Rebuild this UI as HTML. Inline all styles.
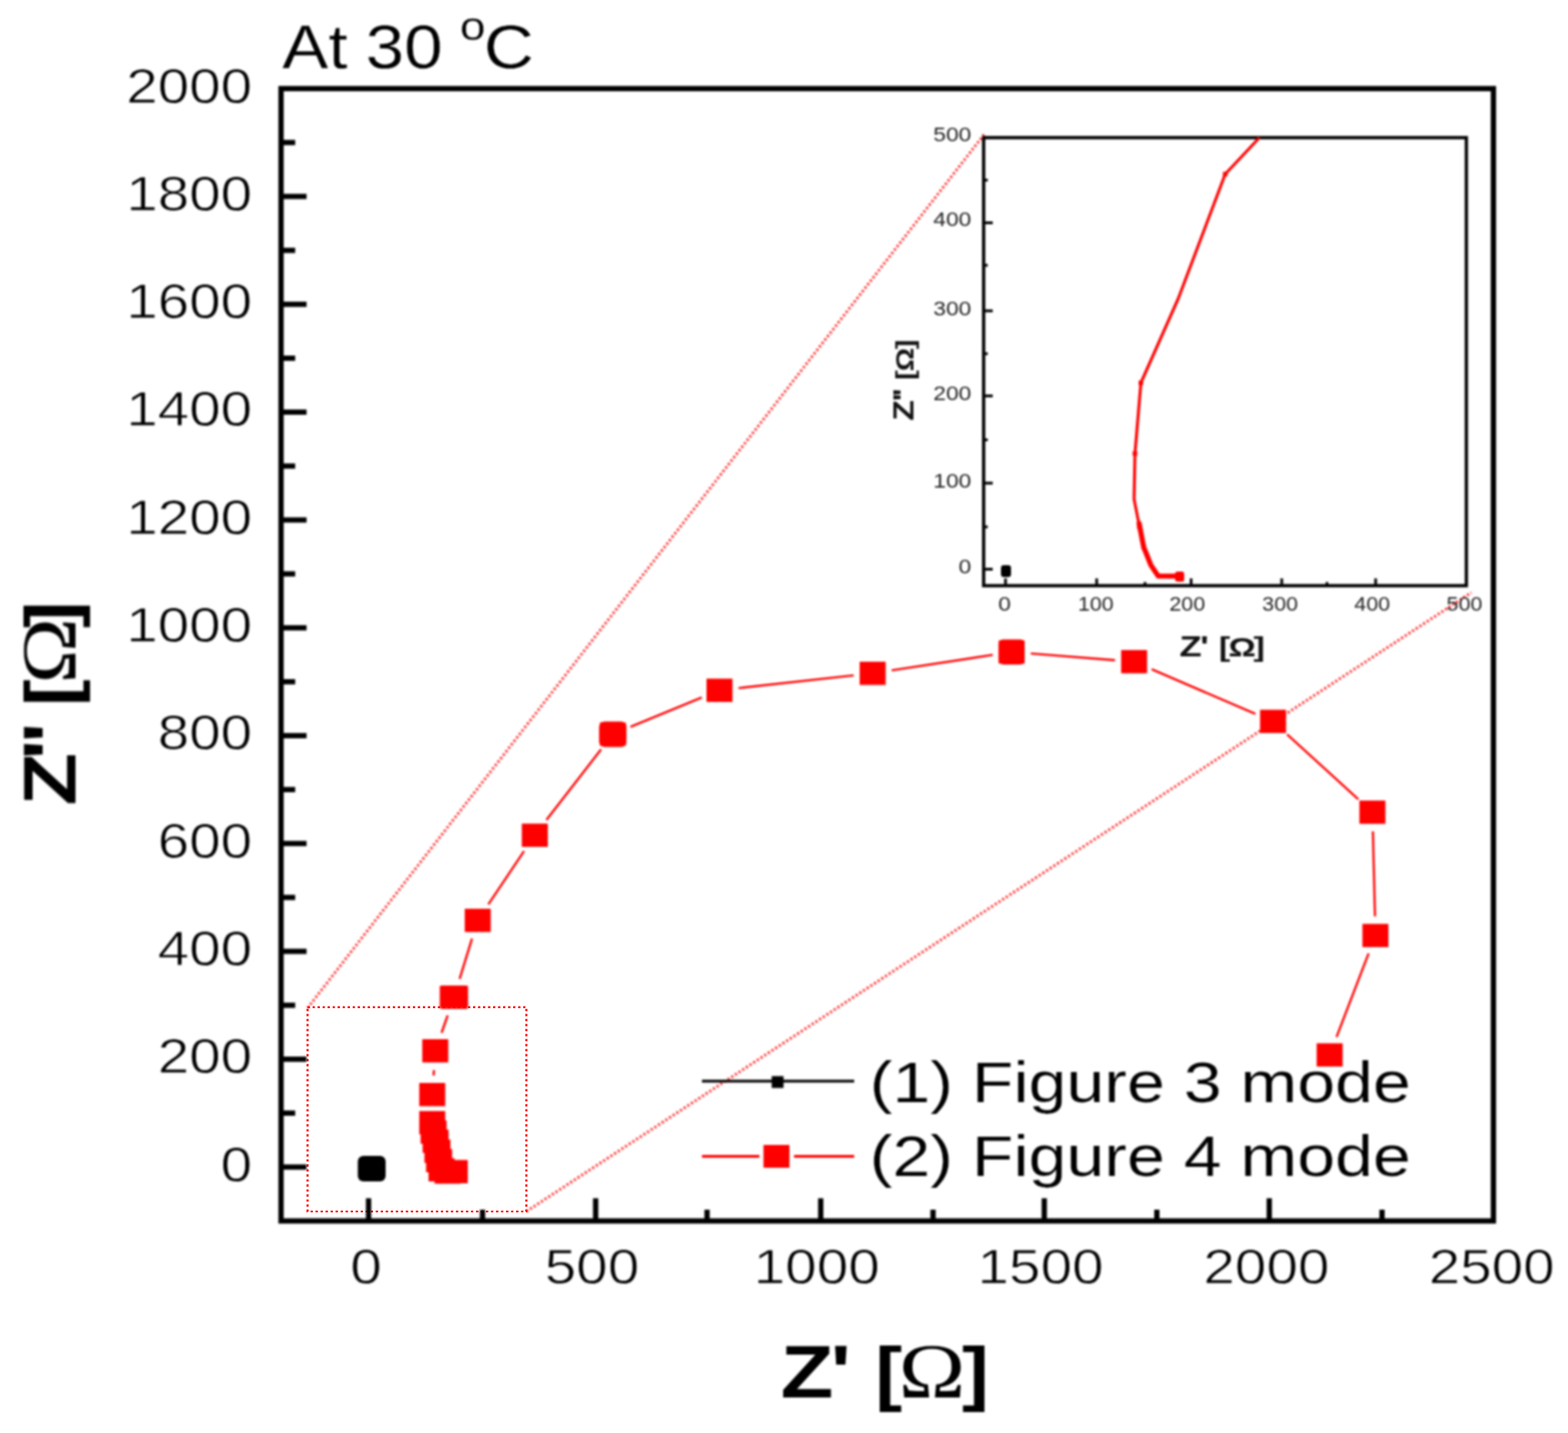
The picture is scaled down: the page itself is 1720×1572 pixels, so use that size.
<!DOCTYPE html>
<html lang="en">
<head>
<meta charset="utf-8">
<title>At 30 °C</title>
<style>
html,body{margin:0;padding:0;background:#fff;}
body{width:1720px;height:1572px;overflow:hidden;}
svg{display:block;}
text{white-space:pre;}
</style>
</head>
<body>
<svg width="1720" height="1572" viewBox="0 0 1720 1572">
<defs>
<filter id="soft" color-interpolation-filters="sRGB" x="0" y="0" width="1720" height="1572" filterUnits="userSpaceOnUse"><feGaussianBlur stdDeviation="0.8"/></filter>
<filter id="soft2" color-interpolation-filters="sRGB" x="0" y="0" width="1720" height="1572" filterUnits="userSpaceOnUse"><feGaussianBlur stdDeviation="0.62"/></filter>
</defs>
<rect width="1720" height="1572" fill="#fff"/>
<g id="zoom-box" filter="url(#soft2)"><rect x="337.4" y="1104.8" width="240.0" height="224.20000000000005" fill="none" stroke="#ff0000" stroke-width="2.2" stroke-dasharray="2.4 3.1"/></g>
<g id="figure" filter="url(#soft)">
<g id="zoom-guides" stroke="#ff0000" fill="none">
<line x1="337.4" y1="1105.8" x2="1079.5" y2="147.5" stroke-width="3" stroke-dasharray="2.4 2.4" opacity="0.8"/>
<line x1="577.4" y1="1329.0" x2="1614" y2="650" stroke-width="3" stroke-dasharray="2.4 2.4" opacity="0.8"/>
</g>
<g id="main-axes" stroke="#000" fill="none" stroke-linecap="butt">
<rect x="308.3" y="97.2" width="1329.9" height="1242.2" stroke-width="5.8"/>
<line x1="308.3" y1="1280.25" x2="336.3" y2="1280.25" stroke-width="5.8"/>
<line x1="308.3" y1="1221.10" x2="323.8" y2="1221.10" stroke-width="5.8"/>
<line x1="308.3" y1="1161.94" x2="336.3" y2="1161.94" stroke-width="5.8"/>
<line x1="308.3" y1="1102.79" x2="323.8" y2="1102.79" stroke-width="5.8"/>
<line x1="308.3" y1="1043.64" x2="336.3" y2="1043.64" stroke-width="5.8"/>
<line x1="308.3" y1="984.49" x2="323.8" y2="984.49" stroke-width="5.8"/>
<line x1="308.3" y1="925.33" x2="336.3" y2="925.33" stroke-width="5.8"/>
<line x1="308.3" y1="866.18" x2="323.8" y2="866.18" stroke-width="5.8"/>
<line x1="308.3" y1="807.03" x2="336.3" y2="807.03" stroke-width="5.8"/>
<line x1="308.3" y1="747.88" x2="323.8" y2="747.88" stroke-width="5.8"/>
<line x1="308.3" y1="688.72" x2="336.3" y2="688.72" stroke-width="5.8"/>
<line x1="308.3" y1="629.57" x2="323.8" y2="629.57" stroke-width="5.8"/>
<line x1="308.3" y1="570.42" x2="336.3" y2="570.42" stroke-width="5.8"/>
<line x1="308.3" y1="511.27" x2="323.8" y2="511.27" stroke-width="5.8"/>
<line x1="308.3" y1="452.11" x2="336.3" y2="452.11" stroke-width="5.8"/>
<line x1="308.3" y1="392.96" x2="323.8" y2="392.96" stroke-width="5.8"/>
<line x1="308.3" y1="333.81" x2="336.3" y2="333.81" stroke-width="5.8"/>
<line x1="308.3" y1="274.66" x2="323.8" y2="274.66" stroke-width="5.8"/>
<line x1="308.3" y1="215.50" x2="336.3" y2="215.50" stroke-width="5.8"/>
<line x1="308.3" y1="156.35" x2="323.8" y2="156.35" stroke-width="5.8"/>
<line x1="404.30" y1="1339.4" x2="404.30" y2="1314.5" stroke-width="5.8"/>
<line x1="529.30" y1="1339.4" x2="529.30" y2="1327.0" stroke-width="5.8"/>
<line x1="653.40" y1="1339.4" x2="653.40" y2="1314.5" stroke-width="5.8"/>
<line x1="775.60" y1="1339.4" x2="775.60" y2="1327.0" stroke-width="5.8"/>
<line x1="900.30" y1="1339.4" x2="900.30" y2="1314.5" stroke-width="5.8"/>
<line x1="1023.50" y1="1339.4" x2="1023.50" y2="1327.0" stroke-width="5.8"/>
<line x1="1145.50" y1="1339.4" x2="1145.50" y2="1314.5" stroke-width="5.8"/>
<line x1="1269.00" y1="1339.4" x2="1269.00" y2="1327.0" stroke-width="5.8"/>
<line x1="1392.30" y1="1339.4" x2="1392.30" y2="1314.5" stroke-width="5.8"/>
<line x1="1516.00" y1="1339.4" x2="1516.00" y2="1327.0" stroke-width="5.8"/>
</g>
<g id="main-ticklabels">
<text transform="translate(242.04 1295.55) scale(1.1550 1.0000)" font-family="'Liberation Sans', sans-serif" font-weight="normal" font-size="53.8" fill="#000" text-anchor="start" stroke="#fff" stroke-width="0.8">0</text>
<text transform="translate(172.94 1177.24) scale(1.1550 1.0000)" font-family="'Liberation Sans', sans-serif" font-weight="normal" font-size="53.8" fill="#000" text-anchor="start" stroke="#fff" stroke-width="0.8">200</text>
<text transform="translate(172.94 1058.94) scale(1.1550 1.0000)" font-family="'Liberation Sans', sans-serif" font-weight="normal" font-size="53.8" fill="#000" text-anchor="start" stroke="#fff" stroke-width="0.8">400</text>
<text transform="translate(172.94 940.63) scale(1.1550 1.0000)" font-family="'Liberation Sans', sans-serif" font-weight="normal" font-size="53.8" fill="#000" text-anchor="start" stroke="#fff" stroke-width="0.8">600</text>
<text transform="translate(172.94 822.33) scale(1.1550 1.0000)" font-family="'Liberation Sans', sans-serif" font-weight="normal" font-size="53.8" fill="#000" text-anchor="start" stroke="#fff" stroke-width="0.8">800</text>
<text transform="translate(138.40 704.02) scale(1.1550 1.0000)" font-family="'Liberation Sans', sans-serif" font-weight="normal" font-size="53.8" fill="#000" text-anchor="start" stroke="#fff" stroke-width="0.8">1000</text>
<text transform="translate(138.40 585.72) scale(1.1550 1.0000)" font-family="'Liberation Sans', sans-serif" font-weight="normal" font-size="53.8" fill="#000" text-anchor="start" stroke="#fff" stroke-width="0.8">1200</text>
<text transform="translate(138.40 467.41) scale(1.1550 1.0000)" font-family="'Liberation Sans', sans-serif" font-weight="normal" font-size="53.8" fill="#000" text-anchor="start" stroke="#fff" stroke-width="0.8">1400</text>
<text transform="translate(138.40 349.11) scale(1.1550 1.0000)" font-family="'Liberation Sans', sans-serif" font-weight="normal" font-size="53.8" fill="#000" text-anchor="start" stroke="#fff" stroke-width="0.8">1600</text>
<text transform="translate(138.40 230.80) scale(1.1550 1.0000)" font-family="'Liberation Sans', sans-serif" font-weight="normal" font-size="53.8" fill="#000" text-anchor="start" stroke="#fff" stroke-width="0.8">1800</text>
<text transform="translate(138.40 112.50) scale(1.1550 1.0000)" font-family="'Liberation Sans', sans-serif" font-weight="normal" font-size="53.8" fill="#000" text-anchor="start" stroke="#fff" stroke-width="0.8">2000</text>
<text transform="translate(384.18 1408.00) scale(1.1550 1.0000)" font-family="'Liberation Sans', sans-serif" font-weight="normal" font-size="53.8" fill="#000" text-anchor="start" stroke="#fff" stroke-width="0.8">0</text>
<text transform="translate(597.53 1408.00) scale(1.1550 1.0000)" font-family="'Liberation Sans', sans-serif" font-weight="normal" font-size="53.8" fill="#000" text-anchor="start" stroke="#fff" stroke-width="0.8">500</text>
<text transform="translate(826.77 1408.00) scale(1.1550 1.0000)" font-family="'Liberation Sans', sans-serif" font-weight="normal" font-size="53.8" fill="#000" text-anchor="start" stroke="#fff" stroke-width="0.8">1000</text>
<text transform="translate(1072.27 1408.00) scale(1.1550 1.0000)" font-family="'Liberation Sans', sans-serif" font-weight="normal" font-size="53.8" fill="#000" text-anchor="start" stroke="#fff" stroke-width="0.8">1500</text>
<text transform="translate(1320.04 1408.00) scale(1.1550 1.0000)" font-family="'Liberation Sans', sans-serif" font-weight="normal" font-size="53.8" fill="#000" text-anchor="start" stroke="#fff" stroke-width="0.8">2000</text>
<text transform="translate(1567.14 1408.00) scale(1.1550 1.0000)" font-family="'Liberation Sans', sans-serif" font-weight="normal" font-size="53.8" fill="#000" text-anchor="start" stroke="#fff" stroke-width="0.8">2500</text>
</g>
<g id="title">
<text id="title-text" transform="translate(309.60 75.00) scale(1.1220 1.0000)" font-family="'Liberation Sans', sans-serif" font-weight="normal" font-size="67.8" fill="#000" stroke="#fff" stroke-width="0.3"><tspan x="-0.17" y="0.00">At</tspan><tspan x="62.57" y="0.00"> 30</tspan><tspan> </tspan><tspan x="173.76" y="-31.20" font-size="45">o</tspan><tspan x="197.14" y="0.00">C</tspan></text>
</g>
<g id="axis-labels">
<text id="xlabel" transform="translate(859.20 1533.30) scale(1.1870 1.0300)" font-family="'Liberation Sans', sans-serif" font-weight="bold" font-size="80" fill="#000"><tspan x="-2.40" y="0.00">Z</tspan><tspan x="43.65" y="0.00">'</tspan><tspan x="63.99" y="0.00" font-size="75"> [</tspan><tspan x="106.68" y="0.00" font-family="'Liberation Serif', serif" font-weight="normal" font-size="83">Ω</tspan><tspan x="165.28" y="0.00" font-size="75">]</tspan></text>
<text id="ylabel" transform="translate(83.20 881.00) rotate(-90) scale(1.1870 1.0300)" font-family="'Liberation Sans', sans-serif" font-weight="bold" font-size="80" fill="#000"><tspan x="-2.40" y="0.00">Z</tspan><tspan x="39.78" y="0.00">'</tspan><tspan x="55.61" y="0.00">'</tspan><tspan x="68.54" y="0.00" font-size="75"> [</tspan><tspan x="110.27" y="0.00" font-family="'Liberation Serif', serif" font-weight="normal" font-size="82">Ω</tspan><tspan x="161.66" y="0.00" font-size="75">]</tspan></text>
</g>
<g id="legend">
<line x1="770" y1="1186" x2="937" y2="1186" stroke="#000" stroke-width="3"/>
<rect x="846.5" y="1180.5" width="13" height="13" fill="#000"/>
<line x1="770" y1="1268.5" x2="833" y2="1268.5" stroke="#ff0000" stroke-width="3"/>
<line x1="871" y1="1268.5" x2="937" y2="1268.5" stroke="#ff0000" stroke-width="3"/>
<rect x="837.5" y="1256" width="28.5" height="25" fill="#ff0000"/>
<text transform="translate(954.08 1209.30) scale(1.1780 1.0000)" font-family="'Liberation Sans', sans-serif" font-weight="normal" font-size="63.4" fill="#000" text-anchor="start" stroke="#fff" stroke-width="0.2">(1) Figure 3 mode</text>
<text transform="translate(954.08 1290.30) scale(1.1780 1.0000)" font-family="'Liberation Sans', sans-serif" font-weight="normal" font-size="63.4" fill="#000" text-anchor="start" stroke="#fff" stroke-width="0.2">(2) Figure 4 mode</text>
</g>
<g id="series2-line" stroke="#ff0000" fill="none" stroke-width="2.4">
<line x1="1466.1" y1="1137.6" x2="1501.3" y2="1045.9"/>
<line x1="1508.3" y1="1005.3" x2="1506.0" y2="912.0"/>
<line x1="1490.0" y1="876.8" x2="1411.9" y2="805.6"/>
<line x1="1377.1" y1="783.1" x2="1263.3" y2="734.2"/>
<line x1="1223.1" y1="724.2" x2="1130.7" y2="716.9"/>
<line x1="1089.0" y1="718.4" x2="978.1" y2="735.4"/>
<line x1="936.4" y1="740.9" x2="810.1" y2="754.9"/>
<line x1="769.8" y1="765.2" x2="691.6" y2="797.4"/>
<line x1="659.4" y1="822.0" x2="599.4" y2="899.6"/>
<line x1="574.9" y1="933.6" x2="535.7" y2="992.2"/>
<line x1="517.8" y1="1029.7" x2="504.2" y2="1073.9"/>
<line x1="491.1" y1="1113.8" x2="484.4" y2="1133.0"/>
<line x1="476.1" y1="1173.8" x2="475.6" y2="1179.8"/>
</g>
<g id="series2-markers" fill="#ff0000">
<rect x="1444.3" y="1144.5" width="28.5" height="25.5"/>
<rect x="1494.5" y="1013.5" width="28.5" height="25.5"/>
<rect x="1491.2" y="878.2" width="28.5" height="25.5"/>
<rect x="1382.2" y="778.6" width="28.5" height="25.5"/>
<rect x="1229.8" y="713.1" width="28.5" height="25.5"/>
<rect x="1095.5" y="702.5" width="28.5" height="25.5"/>
<rect x="943.0" y="725.9" width="28.5" height="25.5"/>
<rect x="775.0" y="744.5" width="28.5" height="25.5"/>
<rect x="658.0" y="792.6" width="28.5" height="25.5"/>
<rect x="572.4" y="903.5" width="28.5" height="25.5"/>
<rect x="509.8" y="996.9" width="28.5" height="25.5"/>
<rect x="483.8" y="1081.2" width="28.5" height="25.5"/>
<rect x="463.2" y="1140.0" width="28.5" height="25.5"/>
<rect x="459.9" y="1188.0" width="28.5" height="25.5"/>
<rect x="459.9" y="1218.8" width="28.5" height="25.5"/>
<rect x="461.4" y="1229.2" width="28.5" height="25.5"/>
<rect x="463.6" y="1239.2" width="28.5" height="25.5"/>
<rect x="465.6" y="1250.2" width="28.5" height="25.5"/>
<rect x="467.4" y="1260.5" width="28.5" height="25.5"/>
<rect x="470.1" y="1270.5" width="28.5" height="25.5"/>
<rect x="476.6" y="1273.0" width="28.5" height="25.5"/>
<rect x="484.6" y="1272.5" width="28.5" height="25.5"/>
<rect x="657.2" y="791.4" width="30" height="28" rx="6"/>
<rect x="482.4" y="1081.6" width="31" height="24.6"/>
<rect x="1095.6" y="701.6" width="28.4" height="27.4" rx="5"/>
</g>
<g id="series1-markers" fill="#000">
<rect x="392.5" y="1268" width="30.5" height="28" rx="6"/>
</g>
<g id="inset">
<rect x="1079.0" y="151.0" width="529.5" height="491.5" fill="none" stroke="#000" stroke-width="3.6"/>
<g stroke="#000" stroke-width="3">
<line x1="1079.0" y1="624.4" x2="1089.0" y2="624.4"/>
<line x1="1079.0" y1="578.0" x2="1083.5" y2="578.0"/>
<line x1="1079.0" y1="530.0" x2="1089.0" y2="530.0"/>
<line x1="1079.0" y1="482.5" x2="1083.5" y2="482.5"/>
<line x1="1079.0" y1="434.3" x2="1089.0" y2="434.3"/>
<line x1="1079.0" y1="388.0" x2="1083.5" y2="388.0"/>
<line x1="1079.0" y1="341.0" x2="1089.0" y2="341.0"/>
<line x1="1079.0" y1="291.0" x2="1083.5" y2="291.0"/>
<line x1="1079.0" y1="244.4" x2="1089.0" y2="244.4"/>
<line x1="1079.0" y1="197.6" x2="1083.5" y2="197.6"/>
<line x1="1103.0" y1="642.5" x2="1103.0" y2="634.5"/>
<line x1="1203.0" y1="642.5" x2="1203.0" y2="634.5"/>
<line x1="1256.0" y1="642.5" x2="1256.0" y2="638.5"/>
<line x1="1306.6" y1="642.5" x2="1306.6" y2="634.5"/>
<line x1="1406.0" y1="642.5" x2="1406.0" y2="634.5"/>
<line x1="1455.6" y1="642.5" x2="1455.6" y2="638.5"/>
<line x1="1509.0" y1="642.5" x2="1509.0" y2="634.5"/>
</g>
<text transform="translate(1023.73 155.20) scale(1.1270 1.0000)" font-family="'Liberation Sans', sans-serif" font-weight="normal" font-size="22.2" fill="#222" text-anchor="start">500</text>
<text transform="translate(1023.73 248.40) scale(1.1270 1.0000)" font-family="'Liberation Sans', sans-serif" font-weight="normal" font-size="22.2" fill="#222" text-anchor="start">400</text>
<text transform="translate(1023.73 346.00) scale(1.1270 1.0000)" font-family="'Liberation Sans', sans-serif" font-weight="normal" font-size="22.2" fill="#222" text-anchor="start">300</text>
<text transform="translate(1023.73 438.50) scale(1.1270 1.0000)" font-family="'Liberation Sans', sans-serif" font-weight="normal" font-size="22.2" fill="#222" text-anchor="start">200</text>
<text transform="translate(1023.73 534.50) scale(1.1270 1.0000)" font-family="'Liberation Sans', sans-serif" font-weight="normal" font-size="22.2" fill="#222" text-anchor="start">100</text>
<text transform="translate(1051.55 629.00) scale(1.1270 1.0000)" font-family="'Liberation Sans', sans-serif" font-weight="normal" font-size="22.2" fill="#222" text-anchor="start">0</text>
<text transform="translate(1095.03 669.60) scale(1.1270 1.0000)" font-family="'Liberation Sans', sans-serif" font-weight="normal" font-size="22.2" fill="#222" text-anchor="start">0</text>
<text transform="translate(1182.46 669.60) scale(1.0594 1.0000)" font-family="'Liberation Sans', sans-serif" font-weight="normal" font-size="22.2" fill="#222" text-anchor="start">100</text>
<text transform="translate(1282.75 669.60) scale(1.0594 1.0000)" font-family="'Liberation Sans', sans-serif" font-weight="normal" font-size="22.2" fill="#222" text-anchor="start">200</text>
<text transform="translate(1384.60 669.60) scale(1.0594 1.0000)" font-family="'Liberation Sans', sans-serif" font-weight="normal" font-size="22.2" fill="#222" text-anchor="start">300</text>
<text transform="translate(1485.57 669.60) scale(1.0594 1.0000)" font-family="'Liberation Sans', sans-serif" font-weight="normal" font-size="22.2" fill="#222" text-anchor="start">400</text>
<text transform="translate(1586.87 669.60) scale(1.0594 1.0000)" font-family="'Liberation Sans', sans-serif" font-weight="normal" font-size="22.2" fill="#222" text-anchor="start">500</text>
<text id="inset-xlabel" transform="translate(1295.00 719.80) scale(1.2500 1.0000)" font-family="'Liberation Sans', sans-serif" font-weight="bold" font-size="32" fill="#111"><tspan x="-0.96" y="0.00">Z</tspan><tspan x="17.12" y="0.00">'</tspan><tspan x="25.21" y="0.00" font-size="30"> [</tspan><tspan x="42.00" y="0.00" font-size="30">Ω</tspan><tspan x="64.03" y="0.00" font-size="30">]</tspan></text>
<text id="inset-ylabel" transform="translate(1002.40 460.40) rotate(-90) scale(1.1500 1.0000)" font-family="'Liberation Sans', sans-serif" font-weight="bold" font-size="32" fill="#111"><tspan x="-0.96" y="0.00">Z</tspan><tspan x="17.45" y="0.00">'</tspan><tspan x="22.23" y="0.00">'</tspan><tspan x="30.15" y="0.00" font-size="28"> [</tspan><tspan x="46.27" y="0.00" font-size="28">Ω</tspan><tspan x="67.04" y="0.00" font-size="28">]</tspan></text>
<path d="M1381.5 151.0 L1344.0 191.0 L1292.5 327.5 L1251.5 420.0 L1245.0 497.5 L1244.0 547.5 L1250.0 578.0 L1254.5 600.0 L1262.5 620.0 L1270.0 632.0 L1297.0 632.0" fill="none" stroke="#ff0000" stroke-width="3.2" stroke-linejoin="round"/>
<rect x="1341.5" y="188.5" width="5" height="5" fill="#ff0000"/>
<rect x="1249.0" y="417.5" width="5" height="5" fill="#ff0000"/>
<rect x="1242.5" y="495.0" width="5" height="5" fill="#ff0000"/>
<rect x="1247.5" y="575.5" width="5" height="5" fill="#ff0000"/>
<rect x="1252.0" y="597.5" width="5" height="5" fill="#ff0000"/>
<path d="M1249.5 574 L1254.5 600 L1262.5 620 L1270.5 632 L1290 632" fill="none" stroke="#ff0000" stroke-width="5.6" stroke-linejoin="round" stroke-linecap="round"/>
<rect x="1289" y="627" width="10" height="11" rx="2.5" fill="#ff0000"/>
<rect x="1098" y="620" width="11" height="13" rx="3" fill="#000"/>
</g>
</g>
</svg>
</body>
</html>
